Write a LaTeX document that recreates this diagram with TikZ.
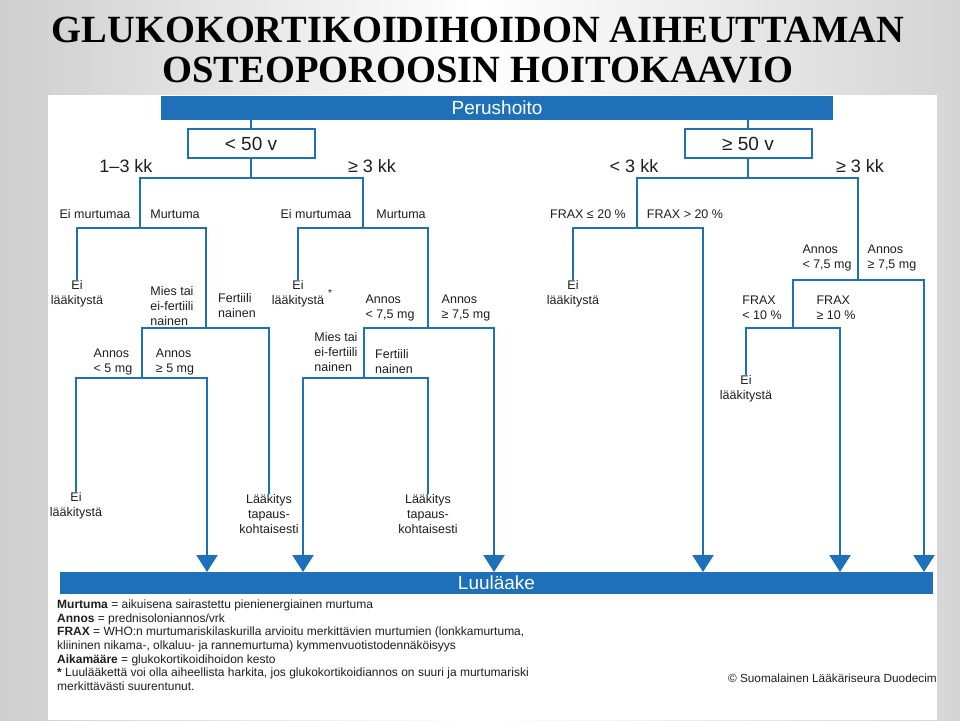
\documentclass[tikz,border=0pt]{standalone}
\usepackage{fontspec}
\setmainfont{Liberation Sans}
\newfontfamily\titlefont{Liberation Serif}
\usetikzlibrary{arrows.meta}
\definecolor{dblue}{RGB}{30,112,184}
\definecolor{ink}{RGB}{30,30,30}
\definecolor{bgA}{RGB}{206,206,206}
\definecolor{bgB}{RGB}{212,212,212}
\begin{document}
\begin{tikzpicture}[x=1pt,y=-1pt,
  conn/.style={draw=dblue,line width=2.5pt},
  tip/.style={-{Triangle[width=21pt,length=17pt]}},
  bar/.style={fill=dblue,text=white,inner sep=0pt,font=\fontsize{19}{19}\selectfont},
  agebox/.style={draw=dblue,line width=2pt,fill=white,minimum width=127pt,minimum height=29pt,inner sep=0pt,text=ink,font=\fontsize{19}{19}\selectfont},
  big/.style={text=ink,font=\fontsize{18}{18}\selectfont,inner sep=0pt},
  lbl/.style={text=ink,font=\fontsize{12.5}{15}\selectfont,inner sep=0pt,align=left},
  leaf/.style={text=ink,font=\fontsize{12.5}{15}\selectfont,inner sep=0pt,align=center,anchor=north},
  ttl/.style={anchor=base,inner sep=0pt,text=black,font=\titlefont\bfseries\fontsize{38.5}{40}\selectfont},
]
\useasboundingbox (0,0) rectangle (960,720);
\shade[left color=bgA, right color=bgB, middle color=white] (0,0) rectangle (960,720);
\fill[white] (48,95) rectangle (937,720);

% title
\node[ttl] (t1) at (478,42) {GLUKOKORTIKOIDIHOIDON AIHEUTTAMAN};
\node[ttl] (t2) at (478,82) {OSTEOPOROOSIN HOITOKAAVIO};

% bars and age boxes
\node[bar,minimum width=672pt,minimum height=24pt] (perus) at (497,108) {Perushoito};
\node[bar,minimum width=873pt,minimum height=22pt] (luu) at (496.5,583) {Luuläake};
\node[agebox] (lt50) at (251,143.5) {< 50 v};
\node[agebox] (ge50) at (748,143.5) {≥ 50 v};

% junctions
\coordinate (jA) at (251,178);
\coordinate (jB) at (140,228);
\coordinate (jC) at (206,328);
\coordinate (jD) at (142,378);
\coordinate (jE) at (363,228);
\coordinate (jG) at (428,328);
\coordinate (jH) at (364,378);
\coordinate (jI) at (748,178);
\coordinate (jJ) at (637,228);
\coordinate (jK) at (858,280);
\coordinate (jL) at (793,328);
\coordinate (ar1) at (207,572);
\coordinate (ar2) at (303,572);
\coordinate (ar3) at (494,572);
\coordinate (ar4) at (703,572);
\coordinate (ar5) at (840,572);
\coordinate (ar6) at (924,572);

% leaves
\node[leaf] (L1) at (77,280) {Ei\\lääkitystä};
\node[leaf] (L2) at (76,492) {Ei\\lääkitystä};
\node[leaf] (L3) at (269,494) {Lääkitys\\tapaus-\\kohtaisesti};
\node[leaf] (L4) at (298,280) {Ei\\lääkitystä};
\node[lbl,font=\fontsize{10}{10}\selectfont] (star) at (330,293) {*};
\node[leaf] (L5) at (428,494) {Lääkitys\\tapaus-\\kohtaisesti};
\node[leaf] (L6) at (573,280) {Ei\\lääkitystä};
\node[leaf] (L7) at (746,375) {Ei\\lääkitystä};

% connectors
\draw[conn] (perus.south -| lt50.north) -- (lt50.north);
\draw[conn] (perus.south -| ge50.north) -- (ge50.north);
\draw[conn] (lt50.south) -- (jA);
\draw[conn] (jB) |- (jA) -| (jE);
\draw[conn] (L1.north) |- (jB) -| (jC);
\draw[conn] (jD) |- (jC) -| (L3.north);
\draw[conn,tip] (L2.north) |- (jD) -| (ar1);
\draw[conn] (L4.north) |- (jE) -| (jG);
\draw[conn,tip] (jH) |- (jG) -| (ar3);
\draw[conn,tip] (L5.north) |- (jH) -| (ar2);
\draw[conn] (ge50.south) -- (jI);
\draw[conn] (jJ) |- (jI) -| (jK);
\draw[conn,tip] (L6.north) |- (jJ) -| (ar4);
\draw[conn,tip] (jL) |- (jK) -| (ar6);
\draw[conn,tip] (L7.north) |- (jL) -| (ar5);

% branch labels
\node[big] (k1) at (126,166) {1–3 kk};
\node[big] (k2) at (372,166) {≥ 3 kk};
\node[big] (k3) at (634,166) {< 3 kk};
\node[big] (k4) at (860,166) {≥ 3 kk};

\node[lbl] (m1) at (95,214) {Ei murtumaa};
\node[lbl] (m2) at (175,214) {Murtuma};
\node[lbl] (m3) at (316,214) {Ei murtumaa};
\node[lbl] (m4) at (401,214) {Murtuma};
\node[lbl] (f1) at (588,214) {FRAX ≤ 20 \%};
\node[lbl] (f2) at (685,214) {FRAX > 20 \%};

\node[lbl] (s1) at (172,306) {Mies tai\\ei-fertiili\\nainen};
\node[lbl] (s2) at (237,305.5) {Fertiili\\nainen};
\node[lbl] (d1) at (113,361.5) {Annos\\< 5 mg};
\node[lbl] (d2) at (175,361.5) {Annos\\≥ 5 mg};

\node[lbl] (d3) at (390,307.5) {Annos\\< 7,5 mg};
\node[lbl] (d4) at (466,307.5) {Annos\\≥ 7,5 mg};
\node[lbl] (s3) at (336,352) {Mies tai\\ei-fertiili\\nainen};
\node[lbl] (s4) at (394,361.5) {Fertiili\\nainen};

\node[lbl] (d5) at (827,257.5) {Annos\\< 7,5 mg};
\node[lbl] (d6) at (892,257.5) {Annos\\≥ 7,5 mg};
\node[lbl] (f3) at (762,307.5) {FRAX\\< 10 \%};
\node[lbl] (f4) at (836,307.5) {FRAX\\≥ 10 \%};

% footer
\node[anchor=north west,align=left,inner sep=0pt,text=ink,font=\fontsize{12}{13.7}\selectfont] (foot) at (57,599.5)
{\textbf{Murtuma} = aikuisena sairastettu pienienergiainen murtuma\\
\textbf{Annos} = prednisoloniannos/vrk\\
\textbf{FRAX} = WHO:n murtumariskilaskurilla arvioitu merkittävien murtumien (lonkkamurtuma,\\
kliininen nikama-, olkaluu- ja rannemurtuma) kymmenvuotistodennäköisyys\\
\textbf{Aikamääre} = glukokortikoidihoidon kesto\\
\textbf{*} Luulääkettä voi olla aiheellista harkita, jos glukokortikoidiannos on suuri ja murtumariski\\
merkittävästi suurentunut.};
\node[anchor=base east,inner sep=0pt,text=ink,font=\fontsize{11.8}{12}\selectfont] (copy) at (937,682) {© Suomalainen Lääkäriseura Duodecim};
\end{tikzpicture}
\end{document}
